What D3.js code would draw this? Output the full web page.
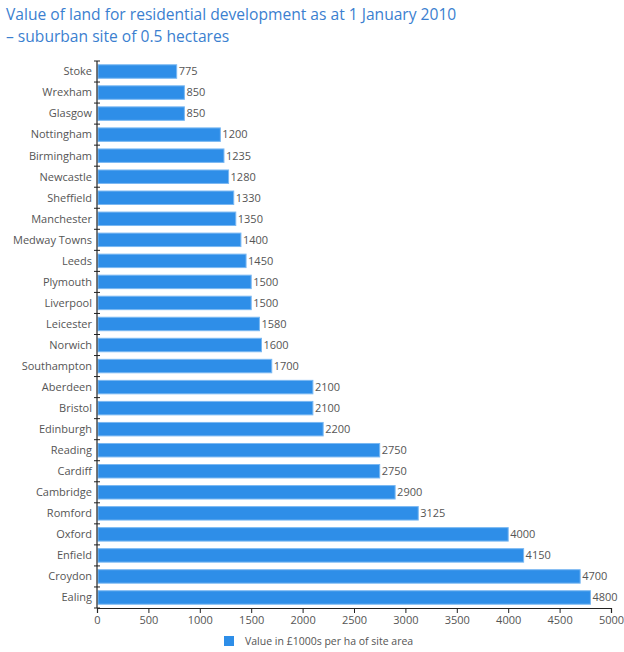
<!DOCTYPE html>
<html>
<head>
<meta charset="utf-8">
<script src="https://cdn.jsdelivr.net/npm/d3@7"></script>
<style>
  body { margin: 0; background: #fff; }
  text { font-family: "Open Sans", "DejaVu Sans", sans-serif; }
</style>
</head>
<body>
<svg id="chart" width="624" height="652"></svg>
<script>
const cities = ["Stoke", "Wrexham", "Glasgow", "Nottingham", "Birmingham", "Newcastle", "Sheffield",
  "Manchester", "Medway Towns", "Leeds", "Plymouth", "Liverpool", "Leicester", "Norwich",
  "Southampton", "Aberdeen", "Bristol", "Edinburgh", "Reading", "Cardiff", "Cambridge",
  "Romford", "Oxford", "Enfield", "Croydon", "Ealing"];
const values = [775, 850, 850, 1200, 1235, 1280, 1330, 1350, 1400, 1450, 1500, 1500, 1580, 1600,
  1700, 2100, 2100, 2200, 2750, 2750, 2900, 3125, 4000, 4150, 4700, 4800];
const xTicks = [0, 500, 1000, 1500, 2000, 2500, 3000, 3500, 4000, 4500, 5000];

const data = cities.map((c, i) => ({ city: c, value: values[i] }));

const svg = d3.select('#chart');
const plotLeft = 97, plotRight = 611, plotTop = 61, plotBottom = 608;

const x = d3.scaleLinear().domain([0, 5000]).range([plotLeft, plotRight]);
const y = d3.scaleBand().domain(cities).range([plotTop, plotBottom]).paddingInner(0.36).paddingOuter(0.18);

// Title
const title = svg.append('text').attr('fill', '#3b7fd0').attr('font-size', 15.6).attr('font-weight', 500);
title.append('tspan').attr('x', 6).attr('y', 20).text('Value of land for residential development as at 1 January 2010');
title.append('tspan').attr('x', 6).attr('y', 42).text('\u2013 suburban site of 0.5 hectares');

// Bars
svg.selectAll('.bar')
  .data(data)
  .enter()
  .append('rect')
  .attr('class', 'bar')
  .attr('x', x(0) + 1)
  .attr('y', d => y(d.city))
  .attr('width', d => x(d.value) - x(0) - 1)
  .attr('height', y.bandwidth())
  .attr('fill', '#2e8ee8')
  .attr('stroke', '#7ab8f2')
  .attr('stroke-width', 1);

// Value labels
svg.selectAll('.val')
  .data(data)
  .enter()
  .append('text')
  .attr('x', d => x(d.value) + 2)
  .attr('y', d => y(d.city) + y.bandwidth() / 2)
  .attr('dy', '0.35em')
  .attr('font-size', 11)
  .attr('fill', '#555')
  .text(d => d.value);

// Y axis with ticks at band boundaries
svg.append('line')
  .attr('x1', plotLeft).attr('x2', plotLeft).attr('y1', plotTop).attr('y2', plotBottom)
  .attr('stroke', '#222').attr('stroke-width', 1.2);
const bounds = d3.range(cities.length + 1).map(i => plotTop + i * y.step());
svg.selectAll('.ytick')
  .data(bounds)
  .enter()
  .append('line')
  .attr('x1', plotLeft - 3).attr('x2', plotLeft + 3)
  .attr('y1', d => d).attr('y2', d => d)
  .attr('stroke', '#222');

svg.selectAll('.cat')
  .data(cities)
  .enter()
  .append('text')
  .attr('x', plotLeft - 5)
  .attr('y', d => y(d) + y.bandwidth() / 2)
  .attr('dy', '0.35em')
  .attr('text-anchor', 'end')
  .attr('font-size', 11)
  .attr('fill', '#555')
  .text(d => d);

// X axis
const xAxis = svg.append('g')
  .attr('transform', `translate(0,${plotBottom})`)
  .call(d3.axisBottom(x).tickValues(xTicks).tickSize(5).tickFormat(d3.format('d')));
xAxis.select('.domain').attr('stroke', '#222').attr('stroke-width', 1.2);
xAxis.selectAll('.tick line').attr('stroke', '#222');
xAxis.selectAll('.tick text')
  .attr('font-size', 11)
  .attr('fill', '#555')
  .attr('font-family', '"Open Sans", "DejaVu Sans", sans-serif');

// Legend
svg.append('rect')
  .attr('x', 224).attr('y', 636).attr('width', 10).attr('height', 10)
  .attr('fill', '#2e8ee8');
svg.append('text')
  .attr('x', 245).attr('y', 645)
  .attr('font-size', 10.5)
  .attr('fill', '#555')
  .text('Value in £1000s per ha of site area');
</script>
</body>
</html>
